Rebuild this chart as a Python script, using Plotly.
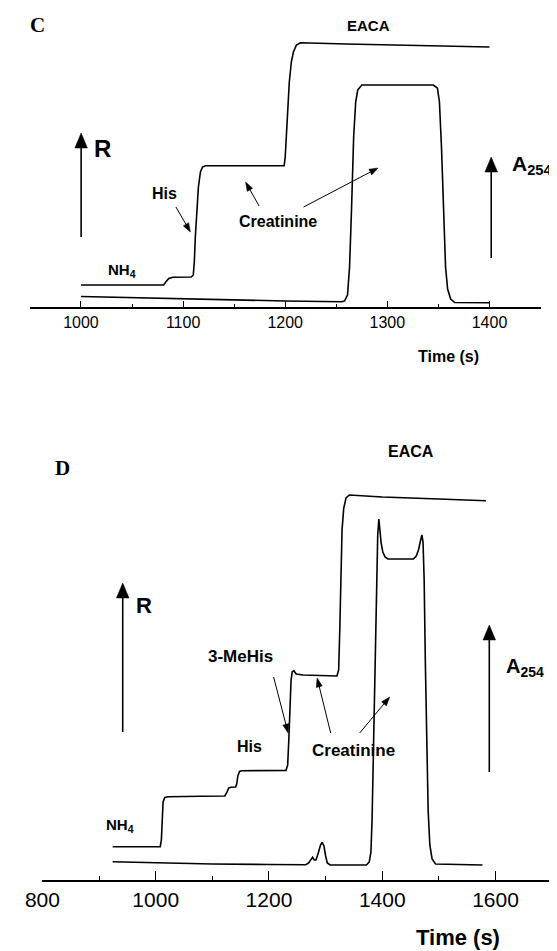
import math
import plotly.graph_objects as go

# Page body keeps an 8px default margin, so the figure is drawn 8px smaller and all
# positions below are given in page pixels and converted.
PAGE_W, PAGE_H = 557, 951
OFF = 8
W, H = PAGE_W - OFF, PAGE_H - OFF

# ---------------- Panel C data (time in s, signal in arbitrary units) ----------------
c_r_time = [1000, 1081, 1083, 1086, 1090, 1108, 1110, 1111, 1112, 1114, 1115, 1117, 1119, 1122,
            1199, 1200, 1202, 1204, 1206, 1208, 1211, 1215, 1260, 1320, 1400]
c_r_signal = [22, 22, 25, 28.5, 29.7, 30, 32, 45, 70, 100, 120, 135, 140, 141.3,
              141.3, 150, 190, 225, 245, 255, 262, 264.3, 263, 262, 260]

c_a_time = [1000, 1100, 1200, 1255, 1258, 1261, 1263, 1265, 1267, 1269, 1271, 1275,
            1345, 1349, 1351, 1353, 1355, 1357, 1359, 1362, 1366, 1400]
c_a_signal = [10.5, 8, 6, 5.3, 6, 12, 40, 100, 170, 205, 217, 222,
              222, 219, 205, 160, 90, 40, 18, 8, 4.5, 4.3]

c_ticks = [1000, 1100, 1200, 1300, 1400]
c_minor = [1050, 1150, 1250, 1350]

# ---------------- Panel D data ----------------
d_r_time = [924, 1008, 1010, 1011, 1013, 1016, 1022, 1080, 1122, 1126, 1129, 1133, 1141, 1143,
            1145, 1148, 1152, 1230, 1233, 1235, 1237, 1239, 1241, 1244, 1248, 1260, 1320, 1323,
            1325, 1327, 1329, 1332, 1336, 1342, 1400, 1500, 1583]
d_r_signal = [33.3, 33.3, 40, 60, 78, 82.5, 83.3, 83.8, 84, 88, 92, 92.7, 93, 96,
              104, 108.5, 109.3, 109.5, 115, 140, 175, 200, 208, 209.3, 206, 205, 204, 210,
              250, 310, 350, 372, 382, 385, 383, 381, 379.3]

d_a_time = [924, 1000, 1100, 1200, 1265, 1270, 1274, 1277, 1280, 1283, 1287, 1291, 1294, 1297,
            1300, 1303, 1308, 1372, 1377, 1380, 1382, 1385, 1388, 1390, 1392, 1394, 1396, 1398,
            1401, 1405, 1410, 1455, 1460, 1464, 1467, 1470, 1472, 1474, 1476, 1478, 1481, 1484,
            1488, 1494, 1577]
d_a_signal = [18.3, 17, 16, 15.5, 15.3, 17, 21, 22.7, 20, 20, 27, 35, 37.7, 34,
              24, 17, 15, 15, 18, 28, 60, 150, 250, 310, 345, 361, 350, 337,
              328, 323, 321, 321, 324, 330, 338, 345, 338, 300, 220, 140, 70, 35,
              21, 16, 15]

d_ticks = [800, 1000, 1200, 1400, 1600]
d_minor = [900, 1100, 1300, 1500]


def px(x):
    return (x - OFF) / W


def py(y):
    return 1 - (y - OFF) / H


LINE = dict(color="black", width=1.6)
FONT = "Arial, Liberation Sans, sans-serif"
SERIF = "Times New Roman, Liberation Serif, serif"

fig = go.Figure()
fig.add_trace(go.Scatter(x=c_r_time, y=c_r_signal, mode="lines", line=LINE, xaxis="x", yaxis="y"))
fig.add_trace(go.Scatter(x=c_a_time, y=c_a_signal, mode="lines", line=LINE, xaxis="x", yaxis="y"))
fig.add_trace(go.Scatter(x=d_r_time, y=d_r_signal, mode="lines", line=LINE, xaxis="x2", yaxis="y2"))
fig.add_trace(go.Scatter(x=d_a_time, y=d_a_signal, mode="lines", line=LINE, xaxis="x2", yaxis="y2"))

annotations = []
shapes = []


def text(x, y, s, size, bold=True, family=FONT):
    annotations.append(dict(
        x=px(x), y=py(y), xref="paper", yref="paper", text=("<b>%s</b>" % s) if bold else s,
        showarrow=False, xanchor="center", yanchor="middle",
        font=dict(family=family, size=size, color="black")))


def arrow(tx, ty, hx, hy, big=False):
    hl, hw, lw = (15, 6.5, 1.6) if big else (9, 3.2, 1.0)
    L = math.hypot(hx - tx, hy - ty)
    ux, uy = (hx - tx) / L, (hy - ty) / L
    bx, by = hx - ux * hl, hy - uy * hl
    nx, ny = -uy, ux
    shapes.append(dict(type="line", xref="paper", yref="paper",
                       x0=px(tx), y0=py(ty), x1=px(bx + ux * 2), y1=py(by + uy * 2),
                       line=dict(color="black", width=lw)))
    p1 = (hx, hy)
    p2 = (bx + nx * hw, by + ny * hw)
    p3 = (bx - nx * hw, by - ny * hw)
    path = "M %f,%f L %f,%f L %f,%f Z" % (px(p1[0]), py(p1[1]), px(p2[0]), py(p2[1]),
                                           px(p3[0]), py(p3[1]))
    shapes.append(dict(type="path", xref="paper", yref="paper", path=path,
                       fillcolor="black", line=dict(color="black", width=0.5)))


# Panel C labels
text(20, 25, "C", 21, family=SERIF)
text(362, 25, "EACA", 15)
arrow(65, 237, 65, 133, big=True)
text(87, 148, "R", 24)
text(151, 193, "His", 16)
arrow(163, 207, 178, 232)
text(107, 270, "NH<sub>4</sub>", 15)
text(269, 221, "Creatinine", 16)
arrow(249, 206, 235, 182)
arrow(295, 207, 372, 168)
arrow(489, 258, 489, 157, big=True)
text(532, 165, "A<sub>254</sub>", 21)
text(445, 356, "Time (s)", 16)

# Panel D labels
text(46, 468, "D", 21, family=SERIF)
text(406, 452, "EACA", 16)
arrow(108, 732, 108, 583, big=True)
text(130, 605, "R", 22)
text(230, 656, "3-MeHis", 17)
arrow(264, 677, 279, 733)
text(239, 746, "His", 16)
text(105, 825, "NH<sub>4</sub>", 15)
text(347, 750, "Creatinine", 17)
arrow(323, 733, 309, 678)
arrow(353, 733, 384, 697)
arrow(487, 772, 487, 625, big=True)
text(524, 667, "A<sub>254</sub>", 20)
text(455, 937, "Time (s)", 22)

xcommon = dict(showline=True, linecolor="black", linewidth=1.5, ticks="inside",
               tickcolor="black", tickwidth=1.2, showgrid=False, zeroline=False,
               tickmode="array", ticklabeloverflow="allow")

fig.update_layout(
    width=W, height=H,
    margin=dict(l=0, r=0, t=0, b=0),
    paper_bgcolor="white", plot_bgcolor="white",
    showlegend=False,
    annotations=annotations,
    shapes=shapes,
    xaxis=dict(domain=[px(12), px(540)], range=[950, 1450], anchor="y",
               tickvals=c_ticks, ticktext=[str(t) for t in c_ticks], ticklen=6,
               tickfont=dict(family=FONT, size=16, color="black"),
               minor=dict(tickmode="array", tickvals=c_minor, ticklen=3, ticks="inside",
                          tickcolor="black", tickwidth=1),
               **xcommon),
    yaxis=dict(domain=[py(307), py(12)], range=[0, 295], visible=False, anchor="x"),
    xaxis2=dict(domain=[px(25), px(552)], range=[800, 1700], anchor="y2",
                tickvals=d_ticks, ticktext=[str(t) for t in d_ticks], ticklen=9,
                tickfont=dict(family=FONT, size=21, color="black"),
                minor=dict(tickmode="array", tickvals=d_minor, ticklen=4, ticks="inside",
                           tickcolor="black", tickwidth=1),
                **xcommon),
    yaxis2=dict(domain=[py(880), py(440)], range=[0, 440], visible=False, anchor="x2"),
)

fig.write_html("out.html")
